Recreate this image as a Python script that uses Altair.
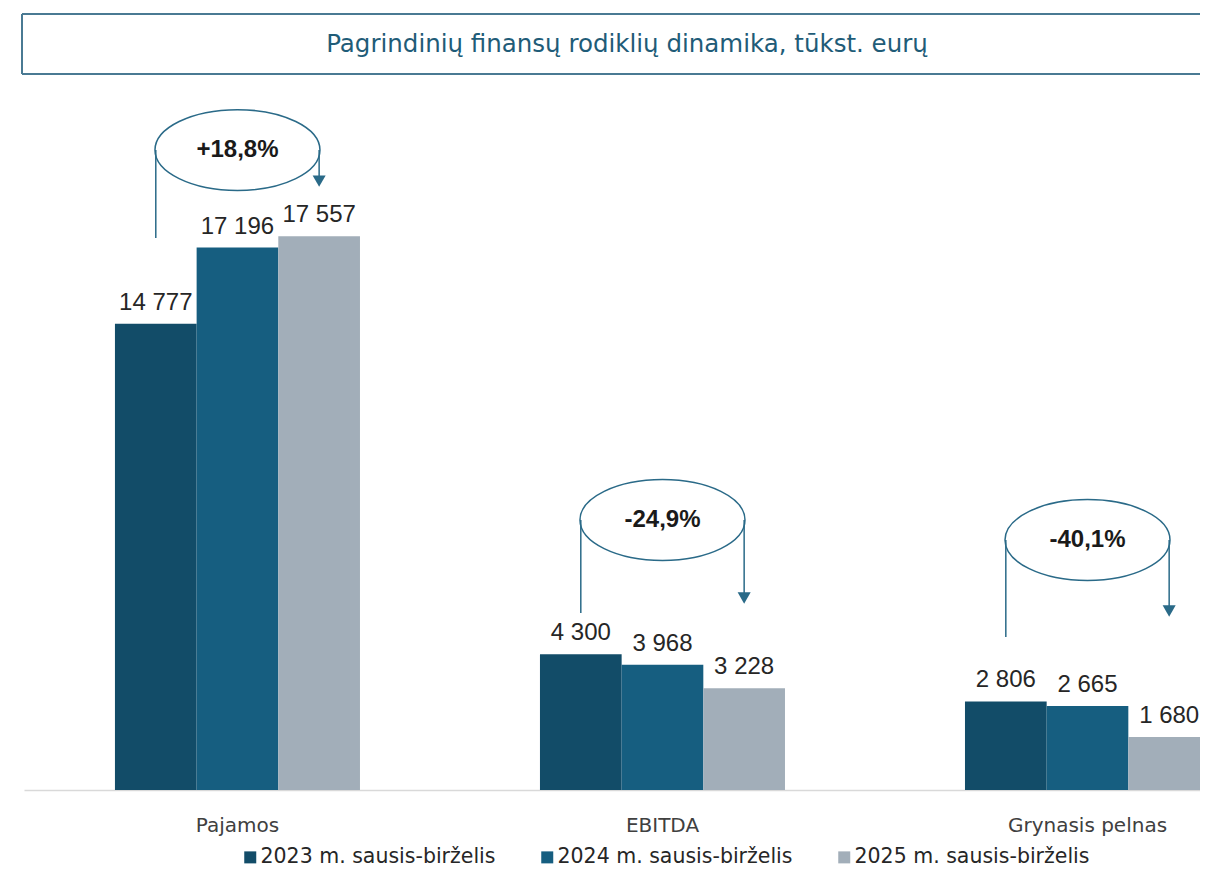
import altair as alt
import pandas as pd

# ---- data ----
title_text = "Pagrindinių finansų rodiklių dinamika, tūkst. eurų"
categories = ["Pajamos", "EBITDA", "Grynasis pelnas"]
series = ["2023 m. sausis-birželis", "2024 m. sausis-birželis", "2025 m. sausis-birželis"]
values_2023 = [14777, 4300, 2806]
values_2024 = [17196, 3968, 2665]
values_2025 = [17557, 3228, 1680]
change_labels = ["+18,8%", "-24,9%", "-40,1%"]
# annotation anchors, in data units (thousand EUR)
ellipse_y = [20285, 8558, 7924]
line_start_y = [17496, 5610, 4849]
arrow_y = [19303, 6086, 5674]
colors = ["#124c68", "#165e80", "#a2aeb9"]

rows = []
for s, vals in zip(series, [values_2023, values_2024, values_2025]):
    for c, v in zip(categories, vals):
        rows.append({"category": c, "series": s, "value": v,
                     "label": f"{v:,}".replace(",", " ")})
bars_df = pd.DataFrame(rows)

ann_df = pd.DataFrame({
    "category": categories,
    "text": change_labels,
    "ey": ellipse_y,
    "y0": line_start_y,
    "ya": arrow_y,
    "s_first": [series[0]] * 3,
    "s_mid": [series[1]] * 3,
    "s_last": [series[2]] * 3,
})

one = pd.DataFrame({"a": [0]})

FONT = "DejaVu Sans"
NUMFONT = "Liberation Sans"
LINE = "#2a6a88"
BOX = "#4a7a93"

x_scale = alt.Scale(domain=categories, range=[0, 1186], paddingInner=0.4235,
                    paddingOuter=0.107, align=1)
y_scale = alt.Scale(domain=[0, 22000], nice=False, zero=True)
off_scale = alt.Scale(domain=series, paddingInner=0, paddingOuter=0)

X = alt.X("category:N", scale=x_scale, sort=categories,
          axis=alt.Axis(title=None, labelAngle=0, labelFontSize=20, labelFont=FONT,
                        labelColor="#404040", ticks=False, domainColor="#d9d9d9",
                        domainWidth=1.5, labelPadding=25, grid=False))
Y = alt.Y("value:Q", scale=y_scale, axis=None)

base = alt.Chart(bars_df)

bars = base.mark_bar().encode(
    x=X,
    xOffset=alt.XOffset("series:N", scale=off_scale),
    y=Y,
    color=alt.Color("series:N", scale=alt.Scale(domain=series, range=colors),
                    legend=alt.Legend(orient="none", legendX=216, legendY=751,
                                      direction="horizontal", columns=3, title=None,
                                      symbolType="square", symbolSize=144,
                                      symbolStrokeWidth=0, labelFontSize=20.5,
                                      labelFont=FONT, labelColor="#262626",
                                      labelOffset=0, columnPadding=41, labelLimit=400)),
)

bar_labels = base.mark_text(baseline="bottom", dy=-9, font=NUMFONT, fontSize=24,
                            color="#262626").encode(
    x=X,
    xOffset=alt.XOffset("series:N", scale=off_scale),
    y=Y,
    text="label:N",
)

ann = alt.Chart(ann_df)
Ya = lambda f: alt.Y(f"{f}:Q", scale=y_scale, axis=None)

left_lines = ann.mark_rule(color=LINE, strokeWidth=1.5).encode(
    x=X, xOffset=alt.XOffset("s_first:N", scale=off_scale),
    y=Ya("y0"), y2="ey:Q",
)
right_lines = ann.mark_rule(color=LINE, strokeWidth=1.5).encode(
    x=X, xOffset=alt.XOffset("s_last:N", scale=off_scale),
    y=Ya("ey"), y2="ya:Q",
)
arrows = ann.mark_point(shape="triangle-down", filled=True, size=170, color=LINE,
                        opacity=1).encode(
    x=X, xOffset=alt.XOffset("s_last:N", scale=off_scale),
    y=Ya("ya"),
)
ellipse_path = ("M -1 0 C -1 -0.271 -0.552 -0.49 0 -0.49 "
                "C 0.552 -0.49 1 -0.271 1 0 "
                "C 1 0.271 0.552 0.49 0 0.49 "
                "C -0.552 0.49 -1 0.271 -1 0 Z")
ellipses = ann.mark_point(shape=ellipse_path, filled=False, size=27225, color=LINE,
                          strokeWidth=1.5, opacity=1).encode(
    x=X, xOffset=alt.XOffset("s_mid:N", scale=off_scale),
    y=Ya("ey"),
)
change_text = ann.mark_text(font=NUMFONT, fontSize=24, fontWeight="bold",
                            color="#1a1a1a", baseline="middle").encode(
    x=X, xOffset=alt.XOffset("s_mid:N", scale=off_scale),
    y=Ya("ey"), text="text:N",
)

oc = alt.Chart(one)
box_top = oc.mark_rule(color=BOX, strokeWidth=2).encode(
    x=alt.value(-2), x2=alt.value(1190), y=alt.value(-82))
box_bottom = oc.mark_rule(color=BOX, strokeWidth=2).encode(
    x=alt.value(-2), x2=alt.value(1190), y=alt.value(-22))
box_left = oc.mark_rule(color=BOX, strokeWidth=2).encode(
    x=alt.value(-2), y=alt.value(-82), y2=alt.value(-22))
title = oc.mark_text(font=FONT, fontSize=24.5, color="#1f5c78", align="center",
                     baseline="middle").encode(
    x=alt.value(603), y=alt.value(-51), text=alt.value(title_text))

chart = alt.layer(
    bars, bar_labels, left_lines, right_lines, arrows, ellipses, change_text,
    box_top, box_bottom, box_left, title,
).properties(
    width=1176, height=694,
    autosize=alt.AutoSizeParams(type="none"),
    padding={"left": 16, "top": 88, "right": 0, "bottom": 79},
    background="white",
).configure_view(stroke="transparent", strokeWidth=0)

chart.save("out.html", embed_options={"renderer": "svg", "actions": False})
